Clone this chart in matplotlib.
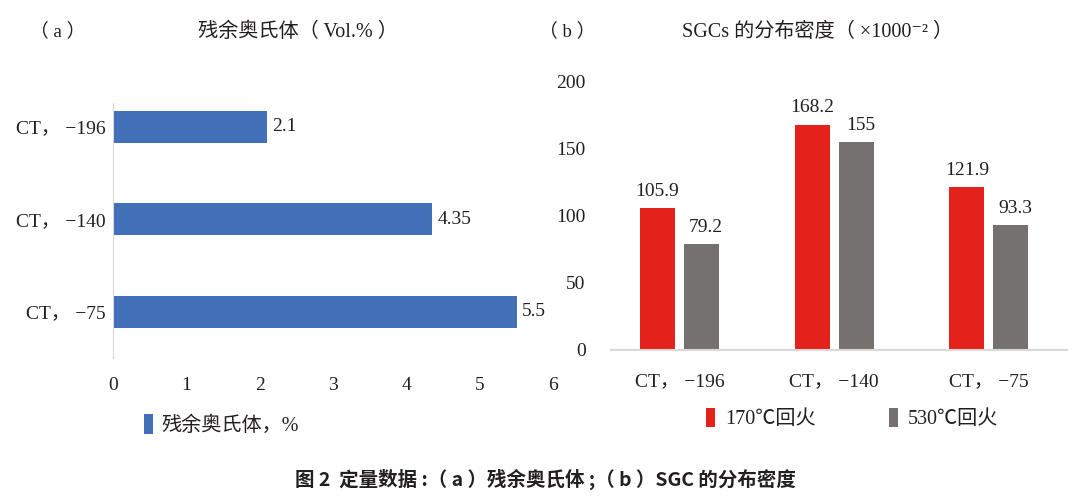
import matplotlib.pyplot as plt
import numpy as np

plt.rcParams['font.family'] = ['Liberation Serif', 'Noto Sans CJK SC', 'DejaVu Sans']
plt.rcParams['axes.unicode_minus'] = True

# datos
cats = ['CT， −196', 'CT， −140', 'CT， −75']
ra_vals = [2.1, 4.35, 5.5]
ra_labels = ['2.1', '4.35', '5.5']
sgc_170 = [105.9, 168.2, 121.9]
sgc_530 = [79.2, 155, 93.3]
sgc_170_labels = ['105.9', '168.2', '121.9']
sgc_530_labels = ['79.2', '155', '93.3']

c_blue = '#4170b8'
c_red = '#e5211c'
c_gray = '#767171'
c_text = '#231f20'
c_axis = '#d9d9d9'

fig = plt.figure(figsize=(10.8, 5.03), dpi=100)

# (a) barras horizontales
ax1 = fig.add_axes([0.1044, 0.2883, 0.408, 0.5517])
y = np.arange(len(cats))
b1 = ax1.barh(y, ra_vals, height=0.346, color=c_blue, label='残余奥氏体，%')
ax1.set_xlim(0, 6)
ax1.set_ylim(2.5, -0.5)
for s in ['top', 'right', 'bottom']:
    ax1.spines[s].set_visible(False)
ax1.spines['left'].set_color(c_axis)
ax1.spines['left'].set_bounds(-0.26, 2.5)
ax1.set_yticks(y)
ax1.set_yticklabels(cats)
ax1.set_xticks(range(7))
ax1.tick_params(axis='both', length=0, labelsize=14, colors=c_text)
ax1.tick_params(axis='x', pad=14)
ax1.tick_params(axis='y', pad=5)
for yi, v, lab in zip(y, ra_vals, ra_labels):
    ax1.text(v + 0.07, yi, lab, va='center', ha='left', fontsize=14, color=c_text)

# (b) barras agrupadas
ax2 = fig.add_axes([0.5655, 0.3042, 0.4222, 0.533])
x = np.arange(len(cats))
off = 0.142
w = 0.226
b2 = ax2.bar(x - off, sgc_170, width=w, color=c_red, label='170℃回火')
b3 = ax2.bar(x + off, sgc_530, width=w, color=c_gray, label='530℃回火')
ax2.set_xlim(-0.445, 2.504)
ax2.set_ylim(0, 200)
ax2.set_yticks([0, 50, 100, 150, 200])
for s in ['top', 'right', 'left']:
    ax2.spines[s].set_visible(False)
ax2.spines['bottom'].set_color(c_axis)
ax2.spines['bottom'].set_linewidth(1.5)
ax2.set_xticks(x)
ax2.set_xticklabels(cats)
ax2.tick_params(axis='both', length=0, labelsize=14, colors=c_text)
ax2.tick_params(axis='x', pad=17)
ax2.tick_params(axis='y', pad=18)
for xi, v, lab in zip(x - off, sgc_170, sgc_170_labels):
    ax2.text(xi, v + 6, lab, ha='center', va='bottom', fontsize=14, color=c_text)
for xi, v, lab in zip(x + off, sgc_530, sgc_530_labels):
    ax2.text(xi + 0.03, v + 6, lab, ha='center', va='bottom', fontsize=14, color=c_text)

# titulos
fig.text(0.053, 0.937, '（ a ）', ha='center', va='center', fontsize=13.5, color=c_text)
fig.text(0.276, 0.935, '残余奥氏体（ Vol.% ）', ha='center', va='center', fontsize=14.5, color=c_text)
fig.text(0.525, 0.937, '（ b ）', ha='center', va='center', fontsize=13.5, color=c_text)
fig.text(0.757, 0.935, 'SGCs 的分布密度（ ×1000⁻² ）', ha='center', va='center', fontsize=14.5, color=c_text)

# leyendas
fig.legend(handles=[b1], loc='center', bbox_to_anchor=(0.205, 0.155), frameon=False,
           fontsize=14.5, handlelength=0.45, handleheight=1.1, handletextpad=0.4,
           labelcolor=c_text)
fig.legend(handles=[b2, b3], loc='center', bbox_to_anchor=(0.789, 0.168), frameon=False,
           ncol=2, fontsize=14.5, handlelength=0.45, handleheight=1.1, handletextpad=0.5,
           columnspacing=3.65, labelcolor=c_text)

# pie de figura
fig.text(0.505, 0.046, '图 2  定量数据 :（ a ）残余奥氏体 ;（ b ）SGC 的分布密度', ha='center', va='center',
         fontsize=14, fontweight='bold', color=c_text,
         family=['Noto Sans CJK SC', 'DejaVu Sans'])

fig.savefig('out.png', dpi=100)
